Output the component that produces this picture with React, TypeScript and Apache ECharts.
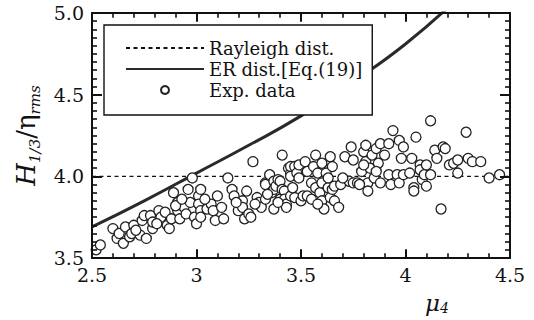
import React, { useEffect, useRef } from "react";
import * as echarts from "echarts";

const xTickLabels = ["2.5", "3", "3.5", "4", "4.5"];
const yTickLabels = ["3.5", "4.0", "4.5", "5.0"];

const xMajorTicks = [2.5, 3.0, 3.5, 4.0, 4.5];
const xMinorTicks = [2.6, 2.7, 2.8, 2.9, 3.1, 3.2, 3.3, 3.4, 3.6, 3.7, 3.8, 3.9, 4.1, 4.2, 4.3, 4.4];
const yMajorTicks = [3.5, 4.0, 4.5, 5.0];
const yMinorTicks = [
  3.55, 3.6, 3.65, 3.7, 3.75, 3.8, 3.85, 3.9, 3.95,
  4.05, 4.1, 4.15, 4.2, 4.25, 4.3, 4.35, 4.4, 4.45,
  4.55, 4.6, 4.65, 4.7, 4.75, 4.8, 4.85, 4.9, 4.95,
];

const seriesNames = ["Rayleigh dist.", "ER dist.[Eq.(19)]", "Exp. data"];

const rayleighX = [2.5, 4.5];
const rayleighY = [4.0, 4.0];

const erX = [2.5, 2.75, 3.0, 3.25, 3.5, 3.75, 4.0, 4.25];
const erY = [3.69, 3.85, 4.02, 4.19, 4.37, 4.58, 4.81, 5.09];

const expData: number[][] = [
  [2.52, 3.55], [2.54, 3.58], [2.6, 3.68], [2.62, 3.62], [2.63, 3.65], [2.65, 3.59],
  [2.66, 3.69], [2.68, 3.63], [2.69, 3.65], [2.7, 3.7], [2.73, 3.64], [2.74, 3.73],
  [2.75, 3.76], [2.76, 3.62], [2.78, 3.76], [2.79, 3.68], [2.79, 3.72], [2.82, 3.79],
  [2.83, 3.75], [2.85, 3.78], [2.86, 3.7], [2.87, 3.68], [2.88, 3.74], [2.89, 3.9],
  [2.91, 3.84], [2.91, 3.79], [2.92, 3.74], [2.94, 3.81], [2.95, 3.77], [2.96, 3.92],
  [2.97, 3.84], [2.98, 3.99], [2.99, 3.75], [3.0, 3.71],
  [3.01, 3.88], [3.02, 3.92], [3.01, 3.83], [3.02, 3.79], [3.02, 3.75], [3.05, 3.8],
  [3.07, 3.83], [3.08, 3.79], [3.09, 3.73], [3.1, 3.88], [3.13, 3.74], [3.15, 3.99],
  [3.17, 3.92], [3.18, 3.88], [3.2, 3.79], [3.22, 3.85], [3.22, 3.81], [3.23, 3.74],
  [3.24, 3.91], [3.25, 3.77], [3.26, 3.75], [3.27, 4.09], [3.29, 3.87], [3.3, 3.84],
  [3.31, 3.81], [3.33, 3.96], [3.33, 3.86], [3.33, 3.95], [3.35, 4.01], [3.36, 3.9],
  [3.37, 3.8], [3.37, 3.97], [3.37, 3.92], [3.38, 3.94], [3.39, 3.98], [3.4, 3.86],
  [3.4, 3.97], [3.41, 4.13], [3.41, 3.92], [3.42, 3.91], [3.42, 3.86], [3.43, 3.83],
  [3.43, 3.81], [3.44, 4.05], [3.45, 4.02], [3.45, 3.88], [3.45, 4.06], [3.45, 4.0],
  [3.47, 3.87], [3.47, 4.06], [3.48, 4.02], [3.49, 4.07], [3.49, 3.99], [3.5, 3.85],
  [3.51, 3.88],
  [3.52, 4.09], [3.53, 4.03], [3.53, 3.88], [3.55, 3.96], [3.56, 4.06], [3.57, 4.13],
  [3.57, 3.93], [3.58, 4.02], [3.59, 3.9], [3.6, 3.85], [3.6, 4.08], [3.6, 3.96],
  [3.61, 3.8], [3.62, 4.02], [3.63, 3.93], [3.64, 3.87], [3.64, 4.12], [3.65, 4.06],
  [3.65, 3.92], [3.66, 3.85], [3.66, 3.94], [3.68, 3.81], [3.69, 3.95], [3.71, 4.12],
  [3.73, 3.97], [3.74, 4.18], [3.75, 4.1], [3.75, 3.96], [3.77, 3.96], [3.79, 4.03],
  [3.8, 4.15], [3.81, 4.19], [3.81, 4.09], [3.82, 3.96], [3.82, 3.91], [3.83, 4.05],
  [3.84, 4.13], [3.85, 3.99], [3.86, 4.17], [3.87, 4.08], [3.88, 3.96], [3.88, 4.2],
  [3.9, 4.13], [3.92, 4.2], [3.92, 4.01], [3.93, 3.95], [3.94, 4.28], [3.96, 4.01],
  [3.97, 4.22], [3.97, 3.96], [3.98, 4.11], [3.99, 4.18], [3.99, 4.01],
  [4.02, 4.02], [4.03, 4.11], [4.04, 3.93], [4.04, 3.91], [4.05, 4.24], [4.07, 4.07],
  [4.07, 4.04], [4.08, 3.98], [4.09, 4.01], [4.1, 4.07], [4.1, 3.94], [4.12, 4.01],
  [4.12, 4.34], [4.14, 4.16], [4.15, 4.11], [4.17, 3.8], [4.18, 4.18], [4.19, 4.17],
  [4.21, 4.07], [4.23, 4.08], [4.25, 4.02], [4.25, 4.1], [4.29, 4.27], [4.3, 4.11],
  [4.32, 4.09], [4.36, 4.09], [4.4, 3.99], [4.45, 4.01],
  [2.71, 3.67], [2.81, 3.71], [2.9, 3.82], [2.93, 3.86], [3.04, 3.86], [3.12, 3.81],
  [3.19, 3.84], [3.28, 3.83], [3.34, 3.89], [3.39, 3.84], [3.46, 3.93], [3.55, 3.86],
  [3.58, 3.83], [3.63, 3.99], [3.7, 3.99], [3.78, 3.95], [3.8, 4.07], [3.86, 4.03],
];

const X_MIN = 2.5;
const X_MAX = 4.5;
const Y_MIN = 3.5;
const Y_MAX = 5.0;

const FONT = "DejaVu Serif";
const INK = "#111";

function zip(xs: number[], ys: number[]) {
  return xs.map((x, i) => [x, ys[i]]);
}

// ticks as markLine segments sitting on the frame and reaching inward
function xTickLines(vals: number[], frac: number) {
  const span = (Y_MAX - Y_MIN) * frac;
  const out: any[] = [];
  vals.forEach((v) => {
    out.push([{ coord: [v, Y_MIN] }, { coord: [v, Y_MIN + span] }]);
    out.push([{ coord: [v, Y_MAX] }, { coord: [v, Y_MAX - span] }]);
  });
  return out;
}
function yTickLines(vals: number[], frac: number) {
  const span = (X_MAX - X_MIN) * frac;
  const out: any[] = [];
  vals.forEach((v) => {
    out.push([{ coord: [X_MIN, v] }, { coord: [X_MIN + span, v] }]);
    out.push([{ coord: [X_MAX, v] }, { coord: [X_MAX - span, v] }]);
  });
  return out;
}

export default function App() {
  const ref = useRef<HTMLDivElement>(null);
  useEffect(() => {
    if (!ref.current) return;
    const chart = echarts.init(ref.current, null, { renderer: "svg" });
    const labelFont = { color: INK, fontFamily: FONT, fontSize: 19 };
    const frameLine = { show: true, onZero: false, lineStyle: { color: INK, width: 2 } };

    const majorStyle = { color: INK, width: 2, type: "solid" };
    const minorStyle = { color: INK, width: 1.6, type: "solid" };
    const tickMarkLine = (data: any[], style: any) => ({
      silent: true,
      symbol: ["none", "none"],
      label: { show: false },
      emphasis: { disabled: true },
      lineStyle: style,
      data,
    });

    // plot area: 418 px wide for 2 units, 254 px high for 1.5 units
    const option: any = {
      animation: false,
      backgroundColor: "#fff",
      grid: { left: 92, right: 24, top: 13, bottom: 53 },
      legend: {
        orient: "vertical",
        left: 104,
        top: 25,
        data: [
          { name: seriesNames[0], itemStyle: { opacity: 0 } },
          { name: seriesNames[1], itemStyle: { opacity: 0 } },
          { name: seriesNames[2] },
        ],
        backgroundColor: "#fff",
        borderColor: INK,
        borderWidth: 1.4,
        borderRadius: 0,
        padding: [14, 10, 16, 21],
        itemGap: 3,
        itemWidth: 78,
        itemHeight: 8,
        textStyle: { color: INK, fontFamily: FONT, fontSize: 18, lineHeight: 18 },
        z: 10,
      },
      xAxis: [
        {
          type: "value",
          min: X_MIN,
          max: X_MAX,
          interval: 0.5,
          position: "bottom",
          axisLine: frameLine,
          axisTick: { show: false },
          splitLine: { show: false },
          axisLabel: {
            ...labelFont,
            margin: 7,
            formatter: (v: number) => xTickLabels.find((t) => Math.abs(parseFloat(t) - v) < 1e-6) ?? "",
          },
          name: "{mu|μ}{sub|4}",
          nameLocation: "middle",
          nameGap: 33,
          nameTextStyle: {
            padding: [0, 0, 0, 272],
            rich: {
              mu: { fontFamily: FONT, fontStyle: "italic", fontSize: 23, lineHeight: 24, color: INK },
              sub: { fontFamily: FONT, fontStyle: "italic", fontSize: 14, lineHeight: 12, verticalAlign: "bottom", color: INK },
            },
          },
          z: 6,
        },
        {
          type: "value",
          min: X_MIN,
          max: X_MAX,
          interval: 0.5,
          position: "top",
          axisLine: frameLine,
          axisTick: { show: false },
          splitLine: { show: false },
          axisLabel: { show: false },
          z: 6,
        },
      ],
      yAxis: [
        {
          type: "value",
          min: Y_MIN,
          max: Y_MAX,
          interval: 0.5,
          position: "left",
          axisLine: frameLine,
          axisTick: { show: false },
          splitLine: { show: false },
          axisLabel: {
            ...labelFont,
            margin: 8,
            formatter: (v: number) => yTickLabels.find((t) => Math.abs(parseFloat(t) - v) < 1e-6) ?? "",
          },
          name: "{h|H}{s|1/3}{n|/η}{s|rms}",
          nameLocation: "middle",
          nameRotate: 90,
          nameGap: 50,
          nameTextStyle: {
            rich: {
              h: { fontFamily: FONT, fontStyle: "italic", fontSize: 26, lineHeight: 32, color: INK },
              n: { fontFamily: FONT, fontSize: 26, lineHeight: 32, color: INK },
              s: { fontFamily: FONT, fontStyle: "italic", fontSize: 15, lineHeight: 15, verticalAlign: "bottom", color: INK },
            },
          },
          z: 6,
        },
        {
          type: "value",
          min: Y_MIN,
          max: Y_MAX,
          interval: 0.5,
          position: "right",
          axisLine: frameLine,
          axisTick: { show: false },
          splitLine: { show: false },
          axisLabel: { show: false },
          z: 6,
        },
      ],
      series: [
        {
          name: seriesNames[0],
          type: "line",
          data: zip(rayleighX, rayleighY),
          symbol: "none",
          lineStyle: { color: INK, width: 1.2, type: [4, 3.5] },
          itemStyle: { color: INK },
          z: 2,
        },
        {
          name: seriesNames[1],
          type: "line",
          data: zip(erX, erY),
          smooth: true,
          symbol: "none",
          clip: true,
          lineStyle: { color: "#2a2a2a", width: 3 },
          itemStyle: { color: "#2a2a2a" },
          z: 2,
        },
        {
          name: seriesNames[2],
          type: "scatter",
          data: expData,
          symbol: "circle",
          symbolSize: 10,
          symbolKeepAspect: true,
          itemStyle: { color: "#fff", borderColor: "#222", borderWidth: 1.3, opacity: 1 },
          z: 3,
        },
        {
          name: "frameTicks",
          type: "line",
          data: [],
          symbol: "none",
          silent: true,
          z: 5,
          markLine: {
            ...tickMarkLine(
              [
                ...xTickLines(xMajorTicks, 9 / 254),
                ...yTickLines(yMajorTicks, 10 / 418),
              ],
              majorStyle,
            ),
          },
        },
        {
          name: "frameMinorTicks",
          type: "line",
          data: [],
          symbol: "none",
          silent: true,
          z: 5,
          markLine: {
            ...tickMarkLine(
              [
                ...xTickLines(xMinorTicks, 5 / 254),
                ...yTickLines(yMinorTicks, 5 / 418),
              ],
              minorStyle,
            ),
          },
        },
      ],
    };
    chart.setOption(option);
    return () => chart.dispose();
  }, []);
  return (
    <div
      ref={ref}
      style={{ position: "fixed", left: 0, top: 0, width: 534, height: 320 }}
    />
  );
}
